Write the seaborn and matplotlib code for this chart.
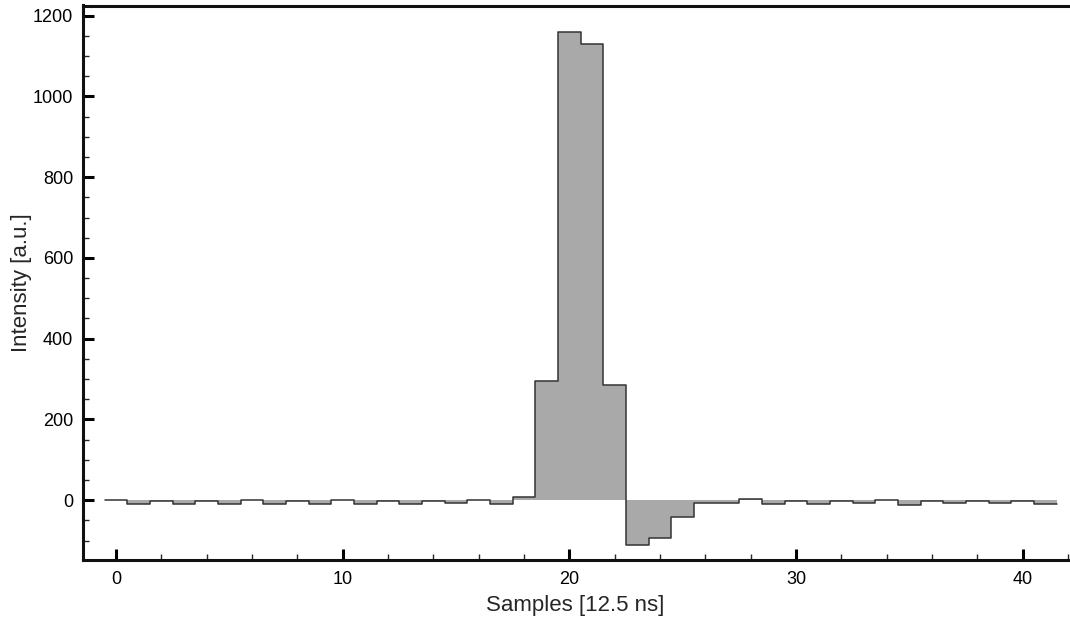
import numpy as np
import pandas as pd
import matplotlib
matplotlib.use("Agg")
import matplotlib.pyplot as plt
from matplotlib.ticker import MultipleLocator
import seaborn as sns

samples = list(range(42))
intensity = [0, -10, -1, -10, -1, -9, 0, -10, -2, -10, 0, -10, -1, -10, -3, -8,
             0, -10, 9, 295, 1160, 1130, 286, -112, -94, -42, -8, -6, 2, -9,
             -1, -10, -2, -8, 0, -12, -2, -8, -2, -8, -2, -10]
x_label = "Samples [12.5 ns]"
y_label = "Intensity [a.u.]"

df = pd.DataFrame({"sample": samples, "intensity": intensity})

sns.set_style("ticks")
plt.rcParams["font.family"] = ["Liberation Sans", "DejaVu Sans"]

fig = plt.figure(figsize=(10.70, 6.18), dpi=100)
ax = fig.add_axes([83 / 1070, 1 - 560 / 618, (1068 - 83) / 1070, (560 - 5.5) / 618])

brange = (min(samples) - 0.5, max(samples) + 0.5)
sns.histplot(data=df, x="sample", weights="intensity", binwidth=1, binrange=brange,
             element="step", fill=True, color="#a9a9a9", alpha=1.0, linewidth=0, ax=ax)
sns.histplot(data=df, x="sample", weights="intensity", binwidth=1, binrange=brange,
             element="step", fill=False, color="#333333", linewidth=1.1, ax=ax)

ax.set_xlim(-1.45, 42.0)
ax.set_ylim(-148, 1225)
ax.xaxis.set_major_locator(MultipleLocator(10))
ax.xaxis.set_minor_locator(MultipleLocator(2))
ax.yaxis.set_major_locator(MultipleLocator(200))
ax.yaxis.set_minor_locator(MultipleLocator(50))
ax.tick_params(which="major", direction="in", length=8, width=2.2, labelsize=13,
               colors="black", pad=8)
ax.tick_params(axis="y", which="major", pad=7)
ax.tick_params(which="minor", direction="in", length=4, width=1.0)
ax.tick_params(top=False, right=False, which="both")

for side in ["left", "bottom", "top"]:
    ax.spines[side].set_linewidth(2.2)
    ax.spines[side].set_color("#111111")
ax.spines["right"].set_visible(False)

ax.set_xlabel(x_label, fontsize=16, labelpad=5)
ax.set_ylabel(y_label, fontsize=16, labelpad=1)

fig.savefig("out.png", dpi=100)
